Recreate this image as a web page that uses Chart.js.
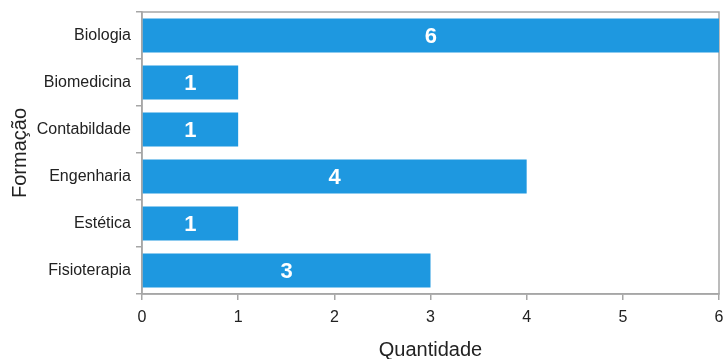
<!DOCTYPE html>
<html>
<head>
  <meta charset="utf-8">
  <title>Formação - Quantidade</title>
  <script src="https://cdn.jsdelivr.net/npm/chart.js"></script>
  <style>
    html, body { margin: 0; padding: 0; background: #fff; }
    #wrap { width: 723px; height: 359px; }
  </style>
</head>
<body>
  <div id="wrap"><canvas id="chart" width="723" height="359"></canvas></div>
  <script>
    // data
    var categories = ['Biologia', 'Biomedicina', 'Contabildade', 'Engenharia', 'Estética', 'Fisioterapia'];
    var quantities = [6, 1, 1, 4, 1, 3];
    var xTicks = [0, 1, 2, 3, 4, 5, 6];

    var barColor = '#1e98e0';
    var axisColor = '#a6a6a6';
    var font = "'Liberation Sans', Arial, sans-serif";

    // white value in the middle of each bar
    var barLabels = {
      id: 'barLabels',
      afterDatasetsDraw: function(chart) {
        var ctx = chart.ctx;
        var meta = chart.getDatasetMeta(0);
        ctx.save();
        ctx.fillStyle = '#fff';
        ctx.font = 'bold 22px ' + font;
        ctx.textAlign = 'center';
        ctx.textBaseline = 'middle';
        meta.data.forEach(function(bar, i) {
          var cx = (bar.x + bar.base) / 2;
          ctx.fillText(String(quantities[i]), cx, bar.y + 1);
        });
        ctx.restore();
      }
    };

    // thin frame round the plot area
    var frame = {
      id: 'frame',
      beforeDatasetsDraw: function(chart) {
        var a = chart.chartArea;
        var ctx = chart.ctx;
        ctx.save();
        ctx.strokeStyle = axisColor;
        ctx.lineWidth = 1.5;
        ctx.strokeRect(a.left, a.top, a.right - a.left, a.bottom - a.top);
        ctx.restore();
      }
    };

    new Chart(document.getElementById('chart'), {
      type: 'bar',
      data: {
        labels: categories,
        datasets: [{
          data: quantities,
          backgroundColor: barColor,
          borderWidth: 0,
          categoryPercentage: 0.72,
          barPercentage: 1.0
        }]
      },
      options: {
        indexAxis: 'y',
        responsive: false,
        animation: false,
        layout: { padding: { top: 12, right: 4, left: 0, bottom: 0 } },
        plugins: {
          legend: { display: false },
          tooltip: { enabled: false }
        },
        scales: {
          x: {
            min: 0,
            max: 6,
            afterBuildTicks: function(scale) {
              scale.ticks = xTicks.map(function(v) { return { value: v }; });
            },
            afterFit: function(scale) {
              scale.height = 65;
              // the last label is allowed to run off the right edge
              scale.paddingRight = 0;
              scale.paddingLeft = 0;
            },
            border: { color: axisColor, width: 1.5 },
            grid: { drawOnChartArea: false, color: axisColor, tickLength: 6, lineWidth: 1.5 },
            ticks: { color: '#222', font: { family: font, size: 16 }, padding: 8 },
            title: {
              display: true,
              text: 'Quantidade',
              color: '#222',
              font: { family: font, size: 20, lineHeight: 0.9 },
              padding: { top: 6, bottom: 0 }
            }
          },
          y: {
            afterFit: function(scale) {
              scale.width = 142;
              scale.paddingTop = 0;
              scale.paddingBottom = 0;
            },
            border: { color: axisColor, width: 1.5 },
            grid: { drawOnChartArea: false, color: axisColor, tickLength: 6, lineWidth: 1.5, offset: true },
            ticks: { color: '#222', font: { family: font, size: 16 }, padding: 5 },
            title: {
              display: true,
              text: 'Formação',
              color: '#222',
              font: { family: font, size: 20 },
              padding: { top: 8, bottom: 0 }
            }
          }
        }
      },
      plugins: [frame, barLabels]
    });
  </script>
</body>
</html>
